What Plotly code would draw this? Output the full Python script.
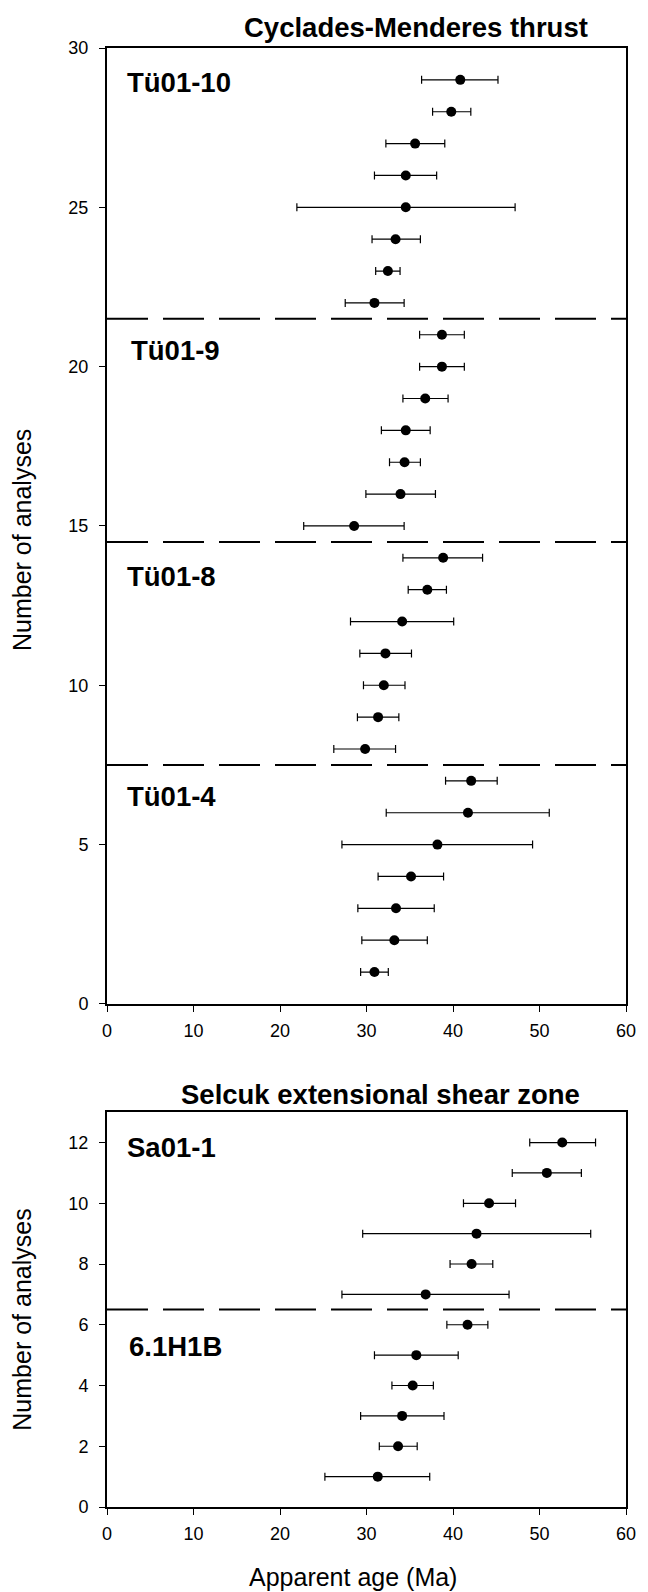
import plotly.graph_objects as go
from plotly.subplots import make_subplots

# ---- Data: Cyclades-Menderes thrust (top panel), groups bottom -> top ----
top_groups = ["Tü01-4", "Tü01-8", "Tü01-9", "Tü01-10"]
top_ages = [
    [30.92, 33.22, 33.41, 35.15, 38.2, 41.73, 42.1],
    [29.84, 31.34, 32.0, 32.19, 34.12, 37.03, 38.86],
    [28.57, 33.93, 34.4, 34.54, 36.79, 38.72, 38.72],
    [30.92, 32.47, 33.36, 34.54, 34.54, 35.62, 39.8, 40.84],
]
top_lower = [
    [29.32, 29.46, 29.0, 31.34, 27.16, 32.28, 39.14],
    [26.22, 28.95, 29.65, 29.23, 28.15, 34.82, 34.21],
    [22.74, 29.93, 32.66, 31.72, 34.21, 36.14, 36.14],
    [27.54, 31.06, 30.64, 21.95, 30.92, 32.24, 37.64, 36.37],
]
top_upper = [
    [32.52, 37.03, 37.83, 38.91, 49.2, 51.13, 45.11],
    [33.36, 33.74, 34.45, 35.2, 40.08, 39.24, 43.42],
    [34.35, 37.97, 36.23, 37.36, 39.43, 41.31, 41.31],
    [34.35, 33.88, 36.23, 47.18, 38.11, 39.05, 42.06, 45.2],
]

# ---- Data: Selcuk extensional shear zone (bottom panel) ----
bot_groups = ["6.1H1B", "Sa01-1"]
bot_ages = [
    [31.3, 33.65, 34.12, 35.34, 35.76, 41.68],
    [36.84, 42.15, 42.72, 44.17, 50.85, 52.63],
]
bot_lower = [
    [25.19, 31.48, 29.32, 32.94, 30.92, 39.29],
    [27.16, 39.66, 29.56, 41.21, 46.85, 48.87],
]
bot_upper = [
    [37.31, 35.86, 38.96, 37.73, 40.6, 44.03],
    [46.48, 44.6, 55.92, 47.23, 54.84, 56.48],
]

# label anchors (data units) for the sample names
top_label_x = [2.1, 2.1, 2.55, 2.1]
top_label_y = [6.5, 13.4, 20.5, 28.93]
bot_label_x = [2.3, 2.1]
bot_label_y = [5.28, 11.84]

FONT = "Liberation Sans, Arial, sans-serif"

fig = make_subplots(rows=2, cols=1)


def add_panel(row, ages, lower, upper, label_x, label_y, names):
    xs, ys, ep, em = [], [], [], []
    n = 0
    boundaries = []
    for g, a in enumerate(ages):
        for i, v in enumerate(a):
            n += 1
            xs.append(v)
            ys.append(n)
            ep.append(upper[g][i] - v)
            em.append(v - lower[g][i])
        boundaries.append(n + 0.5)
    fig.add_trace(go.Scatter(
        x=xs, y=ys, mode="markers",
        marker=dict(color="black", size=10),
        error_x=dict(type="data", symmetric=False, array=ep, arrayminus=em,
                     color="black", thickness=1.2, width=4),
        showlegend=False, hoverinfo="x+y"), row=row, col=1)
    xref = "x" if row == 1 else "x2"
    yref = "y" if row == 1 else "y2"
    for b in boundaries[:-1]:
        fig.add_shape(type="line", xref=xref + " domain", yref=yref,
                      x0=0, x1=1, y0=b, y1=b,
                      line=dict(color="black", width=2, dash="41px,15px"))
    for name, lx, ly in zip(names, label_x, label_y):
        fig.add_annotation(x=lx, y=ly, xref=xref, yref=yref, text="<b>%s</b>" % name,
                           showarrow=False, xanchor="left", yanchor="middle",
                           font=dict(family=FONT, size=27.5, color="black"))


add_panel(1, top_ages, top_lower, top_upper, top_label_x, top_label_y, top_groups)
add_panel(2, bot_ages, bot_lower, bot_upper, bot_label_x, bot_label_y, bot_groups)

axis_common = dict(showline=True, linewidth=2, linecolor="black", mirror=True,
                   ticks="outside", ticklen=6, tickwidth=1, tickcolor="black",
                   showgrid=False, zeroline=False,
                   tickfont=dict(family=FONT, size=18, color="black"))

fig.update_xaxes(range=[0, 60], dtick=10, ticklabelstandoff=3, **axis_common)
fig.update_yaxes(ticklabelstandoff=7, **axis_common)
fig.update_yaxes(range=[0, 30], dtick=5, row=1, col=1)
fig.update_yaxes(range=[0, 13], dtick=2, row=2, col=1)

# The page body adds an 8px margin; work in page pixels and shift.
O = 8
FW, FH = 648 - O, 1592 - O
FRAME_L, FRAME_R = 106.6, 634.8
TOP_T, TOP_B = 47.7, 1004.0
BOT_T, BOT_B = 1112.3, 1507.3

L = FRAME_L - O
R = FW - (FRAME_R - O)
T = TOP_T - O
B = FH - (BOT_B - O)
W = FW - L - R
H = FH - T - B

fig.update_layout(
    width=FW, height=FH,
    margin=dict(l=L, r=R, t=T, b=B, pad=0),
    plot_bgcolor="white", paper_bgcolor="white",
    font=dict(family=FONT, color="black"),
    yaxis=dict(domain=[(BOT_B - TOP_B) / H, 1.0]),
    yaxis2=dict(domain=[0.0, (BOT_B - BOT_T) / H]),
)


def px(xp):
    return (xp - FRAME_L) / W


def py(yp):
    return (BOT_B - yp) / H


fig.add_annotation(x=px(421), y=py(27), xref="paper", yref="paper",
                   text="<b>Cyclades-Menderes thrust</b>", showarrow=False,
                   xanchor="center", yanchor="middle",
                   font=dict(family=FONT, size=27.5, color="black"))
fig.add_annotation(x=px(385), y=py(1095), xref="paper", yref="paper",
                   text="<b>Selcuk extensional shear zone</b>", showarrow=False,
                   xanchor="center", yanchor="middle",
                   font=dict(family=FONT, size=27.5, color="black"))
fig.add_annotation(x=px(20), y=py(540), xref="paper", yref="paper",
                   text="Number of analyses", showarrow=False, textangle=-90,
                   xanchor="center", yanchor="middle",
                   font=dict(family=FONT, size=25, color="black"))
fig.add_annotation(x=px(20), y=py(1320), xref="paper", yref="paper",
                   text="Number of analyses", showarrow=False, textangle=-90,
                   xanchor="center", yanchor="middle",
                   font=dict(family=FONT, size=25, color="black"))
fig.add_annotation(x=px(357), y=py(1577), xref="paper", yref="paper",
                   text="Apparent age (Ma)", showarrow=False,
                   xanchor="center", yanchor="middle",
                   font=dict(family=FONT, size=25, color="black"))

fig.write_html("out.html")
